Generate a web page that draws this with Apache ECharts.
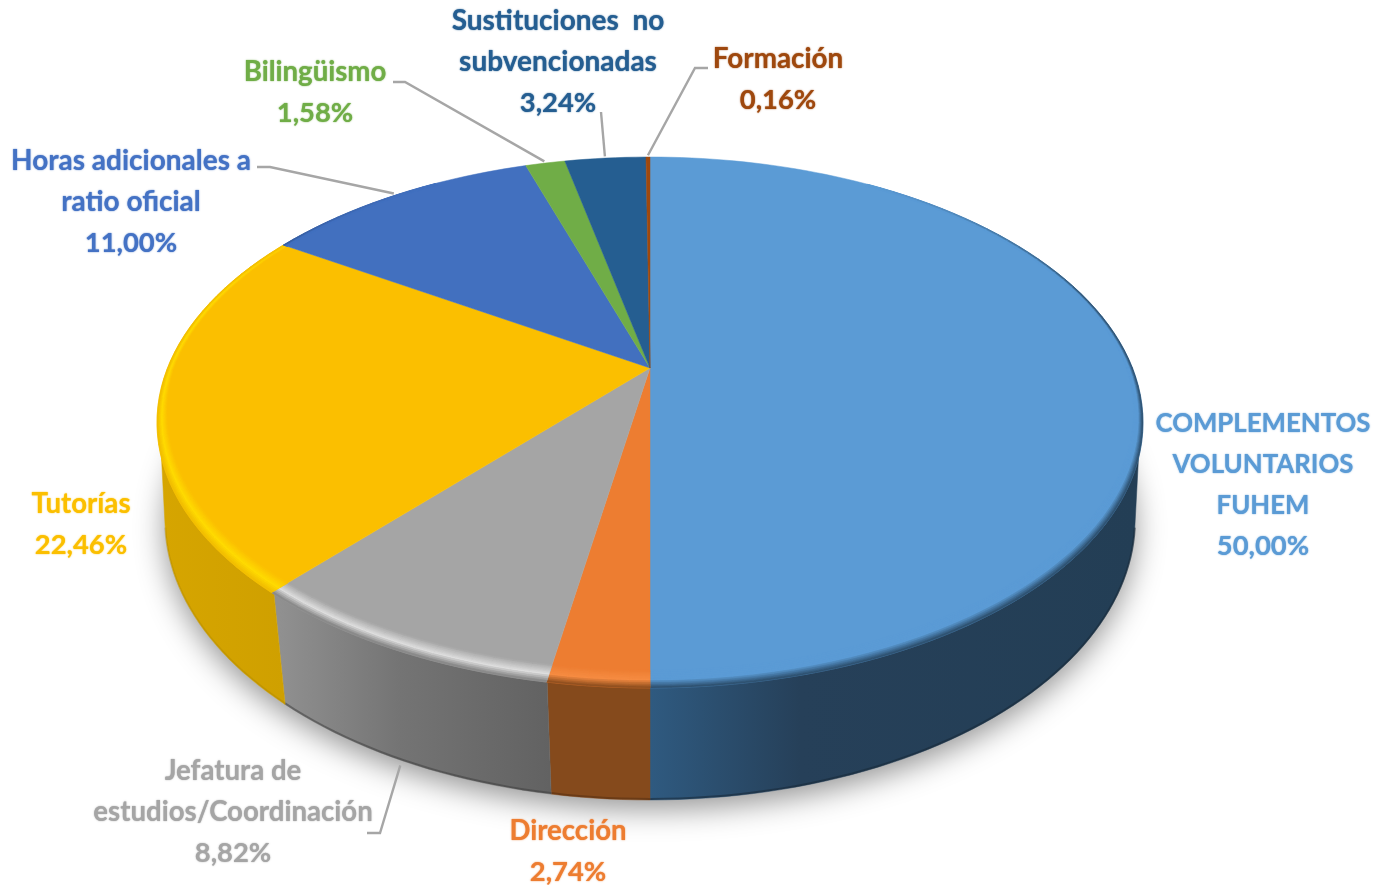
<!DOCTYPE html>
<html>
<head>
<meta charset="utf-8">
<style>
  html, body { margin: 0; padding: 0; background: #fff; }
  #main { width: 1373px; height: 885px; }
</style>
<script src="https://cdn.jsdelivr.net/npm/echarts@6/dist/echarts.min.js"></script>
</head>
<body>
<div id="main"></div>
<script>
// datos del grafico (% por concepto, sentido horario desde arriba)
var categories = [
  'COMPLEMENTOS\nVOLUNTARIOS\nFUHEM',
  'Dirección',
  'Jefatura de\nestudios/Coordinación',
  'Tutorías',
  'Horas adicionales a\nratio oficial',
  'Bilingüismo',
  'Sustituciones  no\nsubvencionadas',
  'Formación'
];
var values = [50, 2.74, 8.82, 22.46, 11, 1.58, 3.24, 0.16];

// colores
var topColors = ['#5b9bd5', '#ed7d31', '#a5a5a5', '#fbbf00', '#4270bf', '#70ad47', '#255e91', '#9e480e'];
var rimLight = ['#5b9bd5', '#f68c42', '#dedede', '#ffdb00', '#4270bf', '#70ad47', '#255e91', '#9e480e'];
var rimEdge = ['#2a4a66', '#854a1c', '#808080', '#f0bb00', '#2a4a80', '#4a7a30', '#173a5a', '#6a3009'];
var wallStops = [
  [[650, '#2f5a80'], [800, '#264059'], [1140, '#233e55']],
  [[550, '#854a1c'], [650, '#854a1c']],
  [[280, '#909090'], [400, '#747474'], [550, '#626262']],
  [[160, '#d6a500'], [285, '#cfa000']]
];
var labelColors = ['#5b9bd5', '#ed7d31', '#a5a5a5', '#fbbf00', '#4472c4', '#70ad47', '#255e91', '#9e480e'];

// sitio de las etiquetas y sus lineas guia
var labelPos = [[1263, 485], [568, 852], [233, 812], [81, 525], [131, 202], [315, 93], [558, 62], [778, 80]];
var nameSize = [25.8, 27.6, 27.6, 27.6, 28, 27.6, 28, 27.8];
var leaderVia = [null, null, [[380, 833], [367, 833]], null, [[270, 167], [257, 167]], [[405, 82], [393, 82]], [[601, 112]], [[695, 68], [708, 68]]];

// perspectiva de la tarta
var topFace = { cx: 650, cy: 368, r: 482.5, s: 254.3, a: 0.2053 };
var baseFace = { cx: 650, cy: 471, r: 477.5, s: 271.4, a: 0.175 };
var BANDS = 10, STEP = 2;
// tramo visible de la pared lateral (grados)
var WALL_FROM = 101.8, WALL_TO = 258.2;

var total = values.reduce(function (s, v) { return s + v; }, 0);

function sliceRange(i) {
  var before = 0;
  for (var k = 0; k < i; k++) before += values[k];
  return [before / total * 360, (before + values[i]) / total * 360];
}

function project(face, deg, r) {
  var t = deg * Math.PI / 180;
  var u = r * Math.sin(t), v = r * Math.cos(t);
  var w = 1 + face.a * v;
  return [face.cx + face.r * u / w, face.cy - face.s * v / w];
}

function arc(face, from, to, r) {
  var pts = [];
  var n = Math.max(2, Math.ceil((to - from) / 1.5));
  for (var i = 0; i <= n; i++) pts.push(project(face, from + (to - from) * i / n, r));
  return pts;
}

function hexRgb(h) {
  return [parseInt(h.substr(1, 2), 16), parseInt(h.substr(3, 2), 16), parseInt(h.substr(5, 2), 16)];
}
function mix(c1, c2, t) {
  var a = hexRgb(c1), b = hexRgb(c2);
  return 'rgb(' + [0, 1, 2].map(function (i) { return Math.round(a[i] + (b[i] - a[i]) * t); }).join(',') + ')';
}
function mixHex(c1, c2, t) {
  var a = hexRgb(c1), b = hexRgb(c2);
  return '#' + [0, 1, 2].map(function (i) {
    var s = Math.round(a[i] + (b[i] - a[i]) * t).toString(16);
    return s.length < 2 ? '0' + s : s;
  }).join('');
}

function renderShadow() {
  return {
    type: 'polygon',
    shape: { points: arc(baseFace, 0, 360, 1) },
    style: { fill: '#ffffff', shadowBlur: 30, shadowColor: 'rgba(0,0,0,0.42)', shadowOffsetY: 9 }
  };
}

function renderWall(params) {
  var i = params.dataIndex;
  var range = sliceRange(i);
  var from = Math.max(range[0], WALL_FROM), to = Math.min(range[1], WALL_TO);
  if (to <= from || !wallStops[i]) return null;
  var upper = arc(topFace, from, to, 0.995);
  var lower = arc(baseFace, from, to, 1);
  var stops = wallStops[i];
  var x0 = stops[0][0], x1 = stops[stops.length - 1][0];
  var fill = new echarts.graphic.LinearGradient(x0, 0, x1, 0, stops.map(function (s) {
    return { offset: (s[0] - x0) / (x1 - x0), color: s[1] };
  }), true);
  return {
    type: 'group',
    children: [
      {
        type: 'polygon',
        shape: { points: upper.concat(lower.slice().reverse()) },
        style: { fill: fill, stroke: fill, lineWidth: 0.5 }
      },
      {
        type: 'polyline',
        shape: { points: lower.map(function (p) { return [p[0], p[1] - 1]; }) },
        style: { stroke: mix(stops[stops.length - 1][1], '#000000', 0.35), lineWidth: 2, fill: 'none', opacity: i === 3 ? 0.2 : 0.55 }
      }
    ]
  };
}

function rimColor(i, t, k) {
  var c = t < 0.55 ? mixHex(topColors[i], rimLight[i], t / 0.55) : mixHex(rimLight[i], rimEdge[i], (t - 0.55) / 0.45);
  return mix(topColors[i], c, k);
}

// ancho del bisel: estrecho a los lados, ancho delante
function bevelAt(deg) {
  var v = Math.cos(deg * Math.PI / 180);
  return 0.013 + 0.032 * Math.max(0, -v);
}

function renderTop(params) {
  var i = params.dataIndex;
  var range = sliceRange(i);
  var children = [{
    type: 'polygon',
    shape: { points: [project(topFace, 0, 0)].concat(arc(topFace, range[0], range[1], 1)) },
    style: { fill: topColors[i], stroke: topColors[i], lineWidth: 0.5 }
  }];
  // bisel del borde: solo se nota en la parte delantera
  for (var d = range[0]; d < range[1]; d += STEP) {
    var e = Math.min(d + STEP, range[1]);
    var m = (d + e) / 2;
    var k = Math.min(1, Math.max(0, (0.85 - Math.cos(m * Math.PI / 180)) / 0.55));
    if (k === 0) continue;
    var bd = bevelAt(d), be = bevelAt(e);
    for (var b = 0; b < BANDS; b++) {
      var t0 = b / BANDS, t1 = (b + 1) / BANDS;
      var col = rimColor(i, (b + 0.5) / BANDS, k);
      children.push({
        type: 'polygon',
        shape: { points: [
          project(topFace, d, 1 - bd + bd * t0), project(topFace, e, 1 - be + be * t0),
          project(topFace, e, 1 - be + be * t1), project(topFace, d, 1 - bd + bd * t1)
        ] },
        style: { fill: col, stroke: col, lineWidth: 0.6 }
      });
    }
  }
  return { type: 'group', children: children };
}

function renderLabel(params, api) {
  var i = params.dataIndex;
  var range = sliceRange(i);
  var pct = api.value(0).toFixed(2).replace('.', ',') + '%';
  var lines = categories[i].split('\n').map(function (s) { return '{n|' + s + '}'; });
  var children = [{
    type: 'text',
    style: {
      x: labelPos[i][0], y: labelPos[i][1],
      text: lines.join('\n') + '\n{p|' + pct + '}',
      fill: labelColors[i],
      fontFamily: 'Lato, "Open Sans", sans-serif',
      fontWeight: 'bold',
      fontSize: 27,
      lineHeight: 41,
      align: 'center',
      verticalAlign: 'middle',
      textShadowBlur: 1.5,
      textShadowColor: labelColors[i],
      rich: {
        n: { fontSize: nameSize[i], fontWeight: 'bold', fontFamily: 'Lato, "Open Sans", sans-serif', fill: labelColors[i], lineHeight: 41 },
        p: { fontSize: 27.4, fontWeight: 'bold', fontFamily: 'Lato, "Open Sans", sans-serif', fill: labelColors[i], lineHeight: 41 }
      }
    }
  }];
  if (leaderVia[i]) {
    var mid = (range[0] + range[1]) / 2;
    var front = Math.cos(mid * Math.PI / 180) < 0;
    var start = front ? project(baseFace, mid, 1.012) : project(topFace, mid, 1.01);
    children.push({
      type: 'polyline',
      shape: { points: [start].concat(leaderVia[i]) },
      style: { stroke: '#a6a6a6', lineWidth: 2.4, fill: 'none' }
    });
  }
  return { type: 'group', children: children };
}

var chart = echarts.init(document.getElementById('main'));
chart.setOption({
  backgroundColor: '#fff',
  animation: false,
  series: [
    { type: 'custom', coordinateSystem: 'none', silent: true, data: [total], renderItem: renderShadow, z: 1 },
    { type: 'custom', coordinateSystem: 'none', silent: true, data: values, renderItem: renderWall, z: 2 },
    { type: 'custom', coordinateSystem: 'none', silent: true, data: values, renderItem: renderTop, z: 3 },
    { type: 'custom', coordinateSystem: 'none', silent: true, data: values, renderItem: renderLabel, z: 4 }
  ]
});
</script>
</body>
</html>
